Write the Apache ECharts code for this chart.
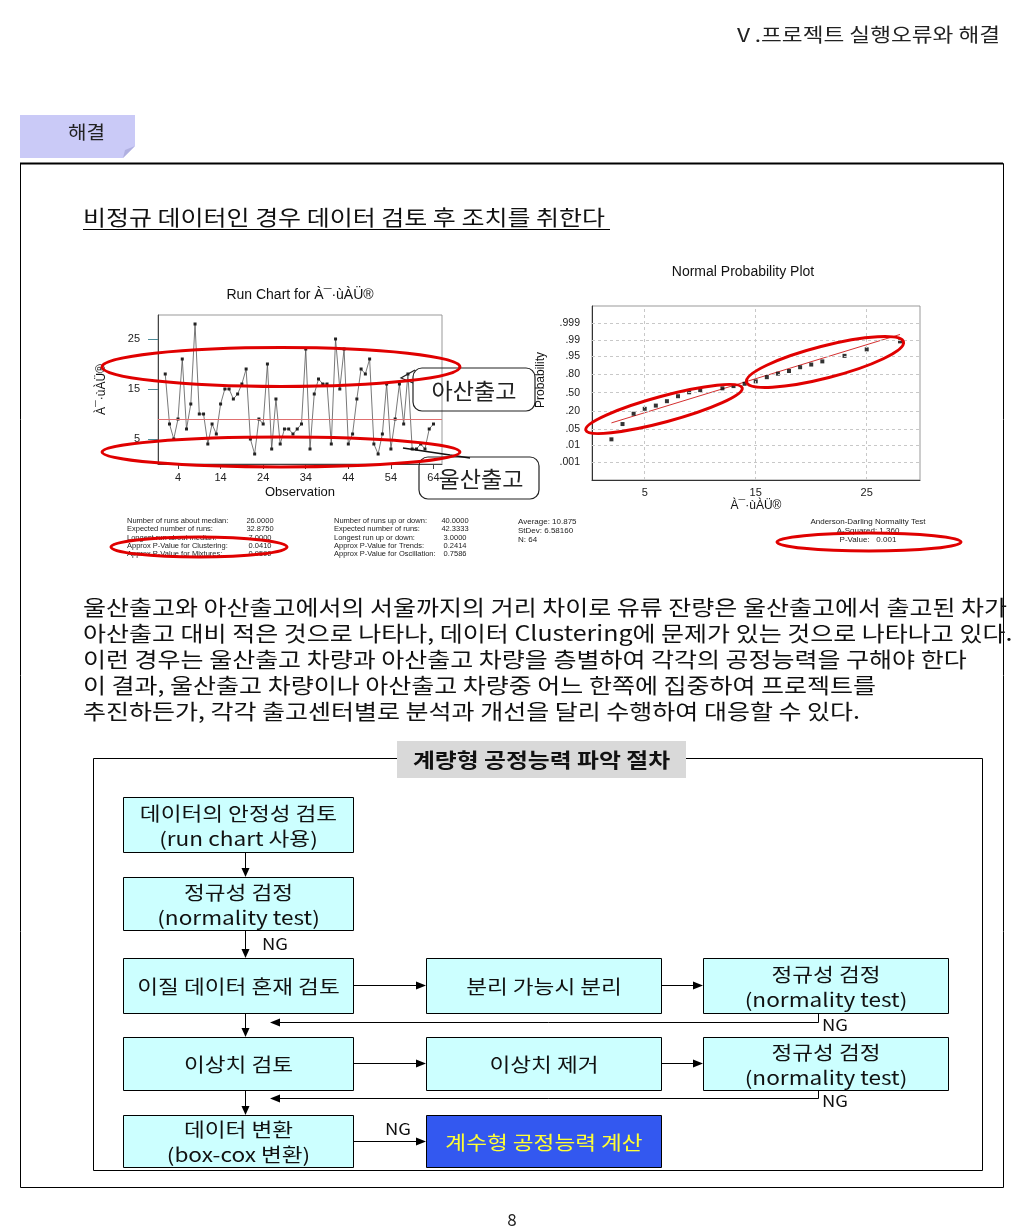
<!DOCTYPE html>
<html>
<head>
<meta charset="utf-8">
<title>Run Chart / Normal Probability Plot</title>
<script src="https://cdn.jsdelivr.net/npm/echarts@6.0.0/dist/echarts.min.js"></script>
<style>
  html, body { margin: 0; padding: 0; background: #fff; }
  #main { width: 1024px; height: 1228px; }
</style>
</head>
<body>
<div id="main"></div>
<script>
// run chart data (observation 1..64)
const runValues = [18, 8, 5, 9, 21, 7, 12, 28, 10, 10, 4, 8, 6, 12, 15, 15, 13, 14, 16, 19, 5, 2,
  9, 8, 20, 3, 13, 4, 7, 7, 6, 7, 8, 23, 3, 14, 17, 16, 16, 4, 25, 15, 23, 4,
  6, 13, 19, 18, 21, 4, 2, 6, 16, 3, 9, 16, 8, 18, 3, 3, 4, 3, 7, 8];
const runMedian = 9;
const runXTicks = [4, 14, 24, 34, 44, 54, 64];
const runYTicks = [5, 15, 25];

// normal probability plot
const probTicks = [0.999, 0.99, 0.95, 0.80, 0.50, 0.20, 0.05, 0.01, 0.001];
const probLabels = ['.999', '.99', '.95', '.80', '.50', '.20', '.05', '.01', '.001'];
const npXTicks = [5, 15, 25];
const npMean = 10.875;
const npStDev = 6.58160;

const runStatsA = ['Number of runs about median:', 'Expected number of runs:', 'Longest run about median:',
  'Approx P-Value for Clustering:', 'Approx P-Value for Mixtures:'];
const runStatsAValues = ['26.0000', '32.8750', '7.0000', '0.0410', '0.9590'];
const runStatsB = ['Number of runs up or down:', 'Expected number of runs:', 'Longest run up or down:',
  'Approx P-Value for Trends:', 'Approx P-Value for Oscillation:'];
const runStatsBValues = ['40.0000', '42.3333', '3.0000', '0.2414', '0.7586'];
const descStats = ['Average: 10.875', 'StDev: 6.58160', 'N: 64'];
const adStats = ['Anderson-Darling Normality Test', 'A-Squared: 1.360', 'P-Value:   0.001'];

const noteLines = [
  '울산출고와 아산출고에서의 서울까지의 거리 차이로 유류 잔량은 울산출고에서 출고된 차가',
  '아산출고 대비 적은 것으로 나타나, 데이터 Clustering에 문제가 있는 것으로 나타나고 있다.',
  '이런 경우는 울산출고 차량과 아산출고 차량을 층별하여 각각의 공정능력을 구해야 한다',
  '이 결과, 울산출고 차량이나 아산출고 차량중 어느 한쪽에 집중하여 프로젝트를',
  '추진하든가, 각각 출고센터별로 분석과 개선을 달리 수행하여 대응할 수 있다.'
];

const KR = '"Noto Sans CJK KR"';
const AR = '"Liberation Sans", Arial';
const WIDE = 1.19;   // the original Korean face runs wider than Noto

// inverse standard normal (probability axis scale)
function probit(p) {
  const a = [-3.969683028665376e+01, 2.209460984245205e+02, -2.759285104469687e+02, 1.383577518672690e+02, -3.066479806614716e+01, 2.506628277459239e+00];
  const b = [-5.447609879822406e+01, 1.615858368580409e+02, -1.556989798598866e+02, 6.680131188771972e+01, -1.328068155922803e+01];
  const c = [-7.784894002430293e-03, -3.223964580411365e-01, -2.400758277161838e+00, -2.549732539343734e+00, 4.374664141464968e+00, 2.938163982698783e+00];
  const d = [7.784695709041462e-03, 3.224671290700398e-01, 2.445134137142996e+00, 3.754408661907416e+00];
  let q, r;
  if (p < 0.02425) {
    q = Math.sqrt(-2 * Math.log(p));
    return (((((c[0] * q + c[1]) * q + c[2]) * q + c[3]) * q + c[4]) * q + c[5]) / ((((d[0] * q + d[1]) * q + d[2]) * q + d[3]) * q + 1);
  }
  if (p > 1 - 0.02425) {
    q = Math.sqrt(-2 * Math.log(1 - p));
    return -(((((c[0] * q + c[1]) * q + c[2]) * q + c[3]) * q + c[4]) * q + c[5]) / ((((d[0] * q + d[1]) * q + d[2]) * q + d[3]) * q + 1);
  }
  q = p - 0.5;
  r = q * q;
  return (((((a[0] * r + a[1]) * r + a[2]) * r + a[3]) * r + a[4]) * r + a[5]) * q / (((((b[0] * r + b[1]) * r + b[2]) * r + b[3]) * r + b[4]) * r + 1);
}

// plotting positions: one point per distinct value, mean rank of ties
const sorted = runValues.slice().sort((a, b) => a - b);
const n = sorted.length;
const npPoints = [];
for (let i = 0; i < n;) {
  let j = i;
  while (j < n && sorted[j] === sorted[i]) j++;
  const rank = (i + 1 + j) / 2;
  npPoints.push([sorted[i], probit((rank - 0.3) / (n + 0.4))]);
  i = j;
}
const fitLine = [sorted[0], sorted[n - 1]].map(v => [v, (v - npMean) / npStDev]);

// ---------- graphic helpers ----------
const g = [];
function text(x, y, s, style, extra) {
  g.push(Object.assign({ type: 'text', x: x, y: y, z: 100,
    style: Object.assign({ text: s, fill: '#111', font: '20px ' + KR, align: 'left', verticalAlign: 'middle' }, style) }, extra));
}
function rect(x, y, w, h, style, r) {
  g.push({ type: 'rect', z: 90, shape: { x: x, y: y, width: w, height: h, r: r || 0 },
    style: Object.assign({ fill: 'none', stroke: '#000', lineWidth: 1 }, style) });
}
function line(pts, style) {
  g.push({ type: 'polyline', z: 95, shape: { points: pts },
    style: Object.assign({ fill: 'none', stroke: '#000', lineWidth: 1 }, style) });
}
function head(x, y, dir) {
  let pts;
  if (dir === 'down') pts = [[x - 4, y - 9], [x + 4, y - 9], [x, y]];
  else if (dir === 'right') pts = [[x - 10, y - 4], [x - 10, y + 4], [x, y]];
  else pts = [[x + 10, y - 4], [x + 10, y + 4], [x, y]];
  g.push({ type: 'polygon', z: 96, shape: { points: pts }, style: { fill: '#000' } });
}
function ellipse(cx, cy, rx, ry, rot) {
  g.push({ type: 'ellipse', z: 110, x: cx, y: cy, rotation: rot || 0, shape: { cx: 0, cy: 0, rx: rx, ry: ry },
    style: { fill: 'none', stroke: '#e00000', lineWidth: 3 } });
}
function box(x, y, w, h, lines, fill, color) {
  rect(x, y, w, h, { fill: fill });
  text(x + w / 2, y + h / 2 + 1, lines.join('\n'),
    { align: 'center', fill: color || '#111', lineHeight: 25, font: '19px ' + KR }, { scaleX: WIDE });
}

// page header
text(1000, 35, 'Ⅴ.프로젝트 실행오류와 해결', { align: 'right', font: '19px ' + KR, fill: '#222' }, { scaleX: WIDE });
g.push({ type: 'polygon', z: 90, shape: { points: [[20, 115], [135, 115], [135, 146], [123, 158], [20, 158]] },
  style: { fill: '#cacaf7' } });
g.push({ type: 'polygon', z: 91, shape: { points: [[123, 158], [135, 146], [125, 150]] }, style: { fill: '#b0b0e0' } });
text(68, 132, '해결', { font: '18px ' + KR, fill: '#222' }, { scaleX: 1.12 });
rect(20.5, 163.5, 983, 1024, {});
line([[20, 163.5], [1003, 163.5]], { lineWidth: 2 });

// title
text(83, 217, '비정규 데이터인 경우 데이터 검토 후 조치를 취한다 ', { font: '21px ' + KR, fill: '#111' }, { scaleX: WIDE });
line([[83, 229.5], [610, 229.5]], { lineWidth: 1.2 });

// chart titles and labels
text(300, 295, 'Run Chart for À¯·ùÀÜ®', { align: 'center', font: '14px ' + AR, fill: '#111' });
text(743, 272, 'Normal Probability Plot', { align: 'center', font: '14px ' + AR, fill: '#111' });
text(541, 380, 'Probability', { align: 'center', font: '12px ' + AR, fill: '#111' }, { rotation: Math.PI / 2 });

// stats blocks
const statFont = '7.5px ' + AR;
text(127, 517, runStatsA.join('\n'), { font: statFont, verticalAlign: 'top', lineHeight: 8.2, fill: '#222' });
text(260, 517, runStatsAValues.join('\n'), { font: statFont, align: 'center', verticalAlign: 'top', lineHeight: 8.2, fill: '#222' });
text(334, 517, runStatsB.join('\n'), { font: statFont, verticalAlign: 'top', lineHeight: 8.2, fill: '#222' });
text(455, 517, runStatsBValues.join('\n'), { font: statFont, align: 'center', verticalAlign: 'top', lineHeight: 8.2, fill: '#222' });
text(518, 517, descStats.join('\n'), { font: '8px ' + AR, verticalAlign: 'top', lineHeight: 9, fill: '#222' });
text(868, 517, adStats.join('\n'), { font: '8px ' + AR, align: 'center', verticalAlign: 'top', lineHeight: 9, fill: '#222' });

// red highlight ellipses
ellipse(281, 367, 179, 19.5);
ellipse(281, 452, 179, 15);
ellipse(664, 409, 81, 13, 0.263);
ellipse(825, 362, 81, 16, 0.251);
ellipse(199, 547, 88, 10);
ellipse(869, 542, 92, 9);

// callouts
rect(413, 368, 122, 43, { stroke: '#222', lineWidth: 1.2 }, 9);
line([[415, 370], [401, 378], [413, 383]], { stroke: '#222', lineWidth: 1.2 });
text(474, 391, '아산출고', { align: 'center', font: '22px ' + KR, fill: '#222' }, { scaleX: 1.05 });
rect(419, 457, 120, 42, { stroke: '#222', lineWidth: 1.2 }, 9);
line([[470, 458], [403, 448], [450, 455]], { stroke: '#111', lineWidth: 1.6 });
text(481, 479, '울산출고', { align: 'center', font: '22px ' + KR, fill: '#222' }, { scaleX: 1.05 });

// explanation paragraph
noteLines.forEach((s, i) => text(83, 607 + i * 26, s, { font: '21px ' + KR, fill: '#111' }, { scaleX: WIDE }));

// flowchart
rect(93.5, 758.5, 889, 412, {});
g.push({ type: 'rect', z: 92, shape: { x: 397, y: 741, width: 289, height: 37 }, style: { fill: '#d9d9d9' } });
text(541.5, 760, '계량형 공정능력 파악 절차', { align: 'center', font: 'bold 20px ' + KR, fill: '#111' }, { scaleX: WIDE });

box(123.5, 797.5, 230, 55, ['데이터의 안정성 검토', '(run chart 사용)'], '#ccffff');
box(123.5, 877.5, 230, 53, ['정규성 검정', '(normality test)'], '#ccffff');
box(123.5, 958.5, 230, 55, ['이질 데이터 혼재 검토'], '#ccffff');
box(426.5, 958.5, 235, 55, ['분리 가능시 분리'], '#ccffff');
box(703.5, 958.5, 245, 55, ['정규성 검정', '(normality test)'], '#ccffff');
box(123.5, 1037.5, 230, 53, ['이상치 검토'], '#ccffff');
box(426.5, 1037.5, 235, 53, ['이상치 제거'], '#ccffff');
box(703.5, 1037.5, 245, 53, ['정규성 검정', '(normality test)'], '#ccffff');
box(123.5, 1115.5, 230, 52, ['데이터 변환', '(box-cox 변환)'], '#ccffff');
box(426.5, 1115.5, 235, 52, ['계수형 공정능력 계산'], '#3358f0', '#ffff33');

[[852, 877], [930, 958], [1013, 1037], [1090, 1115]].forEach(p => {
  line([[245.5, p[0]], [245.5, p[1] - 8]]);
  head(245.5, p[1], 'down');
});
[[985.5, 353, 426], [985.5, 661, 703], [1063.5, 353, 426], [1063.5, 661, 703], [1141.5, 353, 426]].forEach(p => {
  line([[p[1], p[0]], [p[2] - 9, p[0]]]);
  head(p[2], p[0], 'right');
});
[[1013, 1022.5], [1090, 1098.5]].forEach(p => {
  line([[818.5, p[0]], [818.5, p[1]], [279, p[1]]]);
  head(270, p[1], 'left');
  text(822, p[1] + 2, 'NG', { font: '16px ' + KR, fill: '#111' }, { scaleX: 1.15 });
});
text(262, 944, 'NG', { font: '16px ' + KR, fill: '#111' }, { scaleX: 1.15 });
text(385, 1129, 'NG', { font: '16px ' + KR, fill: '#111' }, { scaleX: 1.15 });

text(512, 1220, '8', { align: 'center', font: '17px ' + KR, fill: '#222' });

// ---------- chart ----------
const chart = echarts.init(document.getElementById('main'));
const axisFont = { fontFamily: AR, fontSize: 11, color: '#222' };
const option = {
  animation: false,
  backgroundColor: '#fff',
  grid: [
    { left: 158, top: 315, width: 284, height: 149, show: true, borderColor: '#999', borderWidth: 1 },
    { left: 592, top: 306, width: 328, height: 174, show: true, borderColor: '#999', borderWidth: 1 }
  ],
  xAxis: [
    {
      gridIndex: 0, type: 'value', min: -0.7, max: 66,
      axisLine: { show: true, onZero: false, lineStyle: { color: '#444' } },
      axisTick: { show: true, customValues: runXTicks, length: 5, lineStyle: { color: '#444' } },
      axisLabel: Object.assign({ customValues: runXTicks, margin: 8 }, axisFont),
      splitLine: { show: false },
      name: 'Observation', nameLocation: 'middle', nameGap: 22,
      nameTextStyle: { fontFamily: AR, fontSize: 13, color: '#111' }
    },
    {
      gridIndex: 1, type: 'value', min: 0.25, max: 29.8,
      axisLine: { show: true, onZero: false, lineStyle: { color: '#333' } },
      axisTick: { show: false },
      axisLabel: Object.assign({ customValues: npXTicks, margin: 7 }, axisFont),
      splitLine: { show: false },
      name: 'À¯·ùÀÜ®', nameLocation: 'middle', nameGap: 20,
      nameTextStyle: { fontFamily: AR, fontSize: 12, color: '#111' }
    }
  ],
  yAxis: [
    {
      gridIndex: 0, type: 'value', min: 0, max: 29.8,
      axisLine: { show: true, onZero: false, lineStyle: { color: '#444' } },
      axisTick: { show: true, customValues: runYTicks, length: 10, lineStyle: { color: '#4d8c99' } },
      axisLabel: Object.assign({ customValues: runYTicks, margin: 18 }, axisFont),
      splitLine: { show: false },
      name: 'À¯·ùÀÜ®', nameLocation: 'middle', nameRotate: 90, nameGap: 50,
      nameTextStyle: { fontFamily: AR, fontSize: 12, color: '#111' }
    },
    {
      gridIndex: 1, type: 'value', min: -3.9, max: 3.875,
      axisLine: { show: true, onZero: false, lineStyle: { color: '#333' } },
      axisTick: { show: false },
      axisLabel: { show: false },
      splitLine: { show: false }
    }
  ],
  series: [
    {
      type: 'line', xAxisIndex: 0, yAxisIndex: 0,
      data: runValues.map((v, i) => [i + 1, v]),
      symbol: 'rect', symbolSize: 3, showSymbol: true,
      lineStyle: { color: '#555', width: 0.8 },
      itemStyle: { color: '#222' },
      markLine: {
        silent: true, symbol: ['none', 'none'], label: { show: false },
        lineStyle: { color: '#e07070', width: 1, type: 'solid' },
        data: [{ yAxis: runMedian }]
      }
    },
    {
      type: 'scatter', xAxisIndex: 1, yAxisIndex: 1,
      data: npPoints, symbol: 'rect', symbolSize: 4,
      itemStyle: { color: '#000' }, z: 4,
      markLine: {
        silent: true, symbol: ['none', 'none'],
        lineStyle: { color: '#c8c8c8', type: [3, 3], width: 1 },
        label: { position: 'start', distance: 12, color: '#222', fontSize: 10.5, fontFamily: AR },
        data: probTicks.map((p, i) => ({ yAxis: probit(p), label: { formatter: probLabels[i] } }))
          .concat(npXTicks.map(v => ({ xAxis: v, label: { show: false } })))
      }
    },
    {
      type: 'line', xAxisIndex: 1, yAxisIndex: 1,
      data: fitLine, symbol: 'none',
      lineStyle: { color: '#d43030', width: 1 }, z: 3
    }
  ],
  graphic: { elements: g }
};
chart.setOption(option);
</script>
</body>
</html>
